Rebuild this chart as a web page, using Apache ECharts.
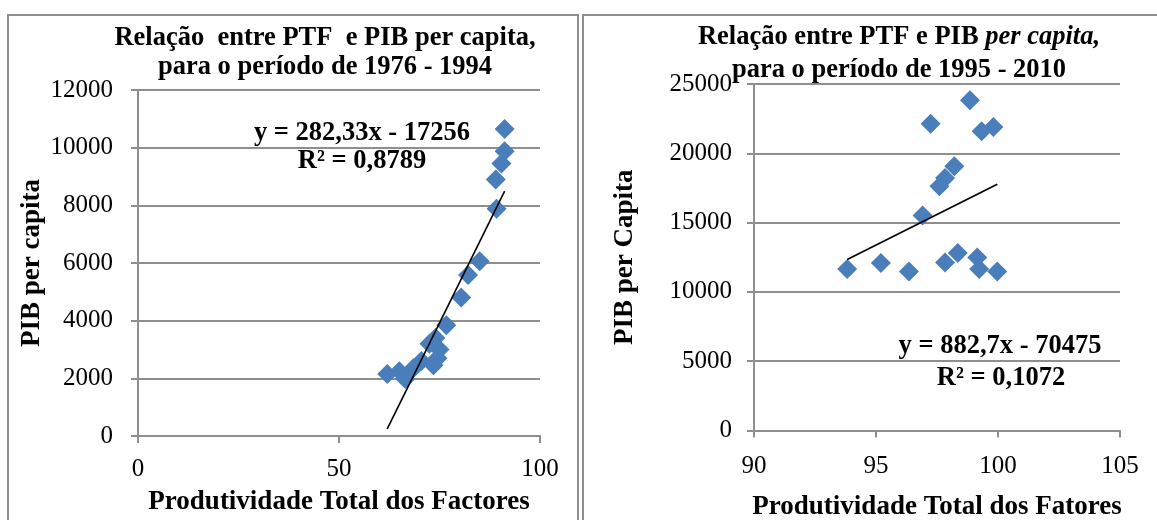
<!DOCTYPE html>
<html>
<head>
<meta charset="utf-8">
<script src="https://cdn.jsdelivr.net/npm/echarts@6/dist/echarts.min.js"></script>
<style>
html,body{margin:0;padding:0;background:#fff;}
#chart{width:1157px;height:520px;}
</style>
</head>
<body>
<div id="chart"></div>
<script>
// Period 1976-1994
const ptf7694 = [91.2, 91.2, 90.4, 89.0, 89.2, 85.0, 82.1, 80.4, 76.7, 62.0, 65.0, 66.5, 68.5, 70.5, 72.5, 74.0, 75.0, 74.5, 73.5];
const pib7694 = [10650, 9880, 9450, 8900, 7880, 6060, 5580, 4800, 3840, 2150, 2250, 1980, 2350, 2600, 3200, 3400, 3000, 2700, 2450];
// Period 1995-2010
const ptf9510 = [98.85, 97.24, 99.33, 99.81, 98.21, 97.83, 97.6, 96.91, 93.82, 95.2, 96.35, 97.83, 98.35, 99.15, 99.23, 99.97];
const pib9510 = [23830, 22125, 21590, 21905, 19060, 18220, 17615, 15520, 11650, 12080, 11475, 12125, 12800, 12490, 11650, 11475];
// Trend equations (slope, intercept) as shown on the chart
const trend7694 = [282.33, -17256];
const trend9510 = [882.7, -70475];
const eqText7694 = ['y = 282,33x - 17256', 'R² = 0,8789'];
const eqText9510 = ['y = 882,7x - 70475', 'R² = 0,1072'];
// Axis tick settings [min, max, interval]
const xTicks7694 = [0, 100, 50];
const yTicks7694 = [0, 12000, 2000];
const xTicks9510 = [90, 105, 5];
const yTicks9510 = [0, 25000, 5000];

const FONT = '"Liberation Serif", "Times New Roman", serif';
const GRAY = '#8e8e8e';
const BLUE = '#4a7ebb';
const TICKFS = 25;
const BOLDFS = 26.5;

function pairs(xs, ys){ return xs.map((x,i)=>[x, ys[i]]); }
function trendLine(xs, coef){
  const mn = Math.min(...xs), mx = Math.max(...xs);
  return [[mn, coef[0]*mn+coef[1]], [mx, coef[0]*mx+coef[1]]];
}
function plain(v){ return String(v); }
function xAxis(idx, t, name, gap, margin){
  return {
    type:'value', gridIndex: idx, min:t[0], max:t[1], interval:t[2],
    name: name, nameLocation:'middle', nameGap: gap,
    nameTextStyle:{fontFamily:FONT, fontWeight:'bold', fontSize:27, color:'#000'},
    axisLine:{show:true, lineStyle:{color:GRAY, width:2}},
    axisTick:{show:true, inside:false, length:7, lineStyle:{color:GRAY, width:2}},
    axisLabel:{fontFamily:FONT, fontSize:TICKFS, color:'#000', margin:margin, formatter:plain},
    splitLine:{show:false}
  };
}
function yAxis(idx, t, name, gap, margin){
  return {
    type:'value', gridIndex: idx, min:t[0], max:t[1], interval:t[2],
    name: name, nameLocation:'middle', nameGap: gap, nameRotate: 90,
    nameTextStyle:{fontFamily:FONT, fontWeight:'bold', fontSize:27, color:'#000'},
    axisLine:{show:true, lineStyle:{color:GRAY, width:2}},
    axisTick:{show:true, inside:false, length:7, lineStyle:{color:GRAY, width:2}},
    axisLabel:{fontFamily:FONT, fontSize:TICKFS, color:'#000', margin:margin, formatter:plain},
    splitLine:{show:true, lineStyle:{color:GRAY, width:2}}
  };
}
function eqGraphic(lines, xs, ys){
  return lines.map((t,i)=>({
    type:'text', z:50,
    style:{text:t, x:xs[i], y:ys[i], fill:'#000', fontFamily:FONT, fontWeight:'bold', fontSize:BOLDFS,
           align:'center', verticalAlign:'middle'}
  }));
}

const chart = echarts.init(document.getElementById('chart'), null, {renderer:'canvas'});
chart.setOption({
  animation:false,
  backgroundColor:'#fff',
  title:[
    {text:'Relação  entre PTF  e PIB per capita,\npara o período de 1976 - 1994', left:325, top:24, textAlign:'center', padding:0,
     textStyle:{fontFamily:FONT, fontWeight:'bold', fontSize:BOLDFS, lineHeight:29, color:'#000'}},
    {text:'{n|Relação entre PTF e PIB }{i|per capita,}\n{n|para o período de 1995 - 2010}', left:899, top:21, textAlign:'center', padding:0,
     textStyle:{fontFamily:FONT, fontWeight:'bold', fontSize:BOLDFS, lineHeight:33, color:'#000',
       rich:{n:{fontFamily:FONT, fontWeight:'bold', fontSize:BOLDFS, lineHeight:33, color:'#000'},
             i:{fontFamily:FONT, fontWeight:'bold', fontStyle:'italic', fontSize:BOLDFS, lineHeight:33, color:'#000'}}}}
  ],
  grid:[
    {left:138, top:90, width:402, height:346, containLabel:false, outerBoundsMode:'none'},
    {left:754, top:84, width:366, height:346.5, containLabel:false, outerBoundsMode:'none'}
  ],
  xAxis:[
    xAxis(0, xTicks7694, 'Produtividade Total dos Factores', 53, 21),
    xAxis(1, xTicks9510, 'Produtividade Total dos Fatores', 63, 23)
  ],
  yAxis:[
    yAxis(0, yTicks7694, 'PIB per capita', 92, 25),
    yAxis(1, yTicks9510, 'PIB per Capita', 115, 22)
  ],
  series:[
    {type:'scatter', xAxisIndex:0, yAxisIndex:0, symbol:'diamond', symbolSize:20,
     itemStyle:{color:BLUE, opacity:1}, data:pairs(ptf7694, pib7694), z:3},
    {type:'line', xAxisIndex:0, yAxisIndex:0, symbol:'none', lineStyle:{color:'#000', width:1.6},
     data:trendLine(ptf7694, trend7694), z:4},
    {type:'scatter', xAxisIndex:1, yAxisIndex:1, symbol:'diamond', symbolSize:20,
     itemStyle:{color:BLUE, opacity:1}, data:pairs(ptf9510, pib9510), z:3},
    {type:'line', xAxisIndex:1, yAxisIndex:1, symbol:'none', lineStyle:{color:'#000', width:1.6},
     data:trendLine(ptf9510, trend9510), z:4}
  ],
  graphic:[
    {type:'rect', z:0, shape:{x:8, y:15, width:570, height:520}, style:{fill:'none', stroke:GRAY, lineWidth:2}},
    {type:'rect', z:0, shape:{x:583, y:15, width:590, height:520}, style:{fill:'none', stroke:GRAY, lineWidth:2}},
    ...eqGraphic(eqText7694, [362, 362], [133, 161]),
    ...eqGraphic(eqText9510, [1000, 1001], [346, 378])
  ]
});
</script>
</body>
</html>
